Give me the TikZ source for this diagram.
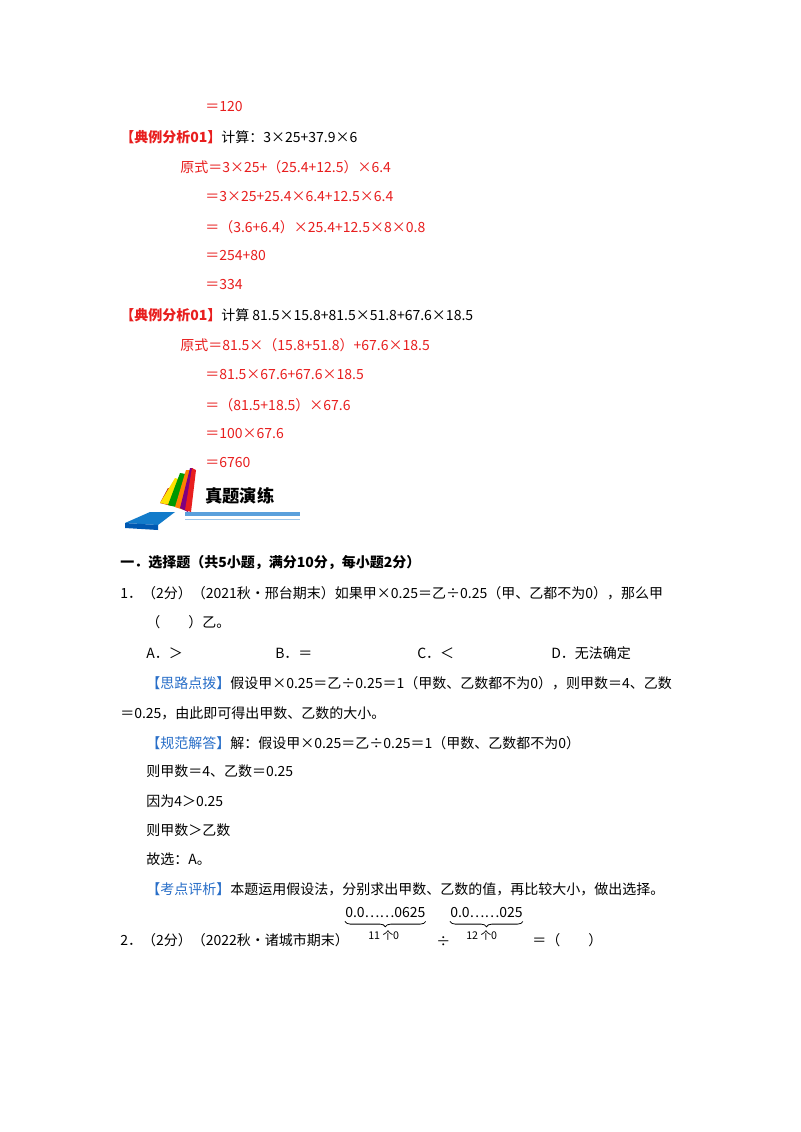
\documentclass[tikz,border=0pt]{standalone}
\usepackage{fontspec}
\setmainfont{Noto Sans CJK SC}
\usetikzlibrary{decorations.pathreplacing,calc}
\definecolor{rd}{RGB}{232,30,30}
\definecolor{bl}{RGB}{40,110,200}
\definecolor{ln}{RGB}{90,160,220}
\begin{document}
\begin{tikzpicture}[x=0.75pt,y=-0.75pt,
  t/.style={anchor=west,inner sep=0pt,font=\fontsize{10.5}{12}\selectfont},
  r/.style={t,text=rd},
  brc/.style={decorate,decoration={brace,mirror,amplitude=4pt},line width=0.6pt}]
\useasboundingbox[fill=white] (0,0) rectangle (800,1132);
\node[r] (a1) at (205,107) {＝120};
\node[t] (h1) at (120,137) {\textcolor{rd}{\bfseries 【典例分析01】}计算：3×25+37.9×6};
\node[r] (a2) at (180,167) {原式＝3×25+（25.4+12.5）×6.4};
\node[r] (a3) at (205,197) {＝3×25+25.4×6.4+12.5×6.4};
\node[r] (a4) at (205,227) {＝（3.6+6.4）×25.4+12.5×8×0.8};
\node[r] (a5) at (205,256) {＝254+80};
\node[r] (a6) at (205,285) {＝334};
\node[t] (h2) at (120,315) {\textcolor{rd}{\bfseries 【典例分析01】}计算 81.5×15.8+81.5×51.8+67.6×18.5};
\node[r] (b1) at (180,345) {原式＝81.5×（15.8+51.8）+67.6×18.5};
\node[r] (b2) at (205,375) {＝81.5×67.6+67.6×18.5};
\node[r] (b3) at (205,405) {＝（81.5+18.5）×67.6};
\node[r] (b4) at (205,434) {＝100×67.6};
\node[r] (b5) at (205,463) {＝6760};
% icon
\fill[ln] (185,512) rectangle (300,516);
\draw[ln!60,line width=0.6pt] (185,519) -- (300,519);
\fill[rd!80!black] (160,503) -- (168,488) -- (178,490) -- (172,506) -- cycle;
\fill[yellow!85!orange] (160,503) -- (175,478) -- (182,480) -- (176,506) -- cycle;
\fill[green!60!black] (168,505) -- (180,473) -- (186,474) -- (180,508) -- cycle;
\fill[orange] (175,507) -- (186,470) -- (190,470) -- (184,510) -- cycle;
\fill[violet] (180,508) -- (190,468) -- (193,468) -- (188,512) -- cycle;
\fill[rd] (185,510) -- (192,468) -- (196,470) -- (191,512) -- cycle;
\fill[cyan!60!blue] (125,523) -- (150,512) -- (175,512) -- (158,525) -- cycle;
\fill[blue!50!cyan!70!black] (125,523) -- (158,525) -- (158,530) -- (125,528) -- cycle;
\node[t,font=\fontsize{13}{14}\selectfont\bfseries] (hd) at (205,496) {真题演练};
% questions
\node[t,font=\fontsize{10.5}{12}\selectfont\bfseries] (s1) at (120,563) {一．选择题（共5小题，满分10分，每小题2分）};
\node[t] (q1) at (120,593) {1．（2分）（2021秋•邢台期末）如果甲×0.25＝乙÷0.25（甲、乙都不为0），那么甲};
\node[t] (q1b) at (146,622) {（\hspace{2em}）乙。};
\node[t] (oA) at (146,653) {A．＞};
\node[t] (oB) at (275,653) {B．＝};
\node[t] (oC) at (417,653) {C．＜};
\node[t] (oD) at (551,653) {D．无法确定};
\node[t] (p1) at (146,683) {\textcolor{bl}{【思路点拨】}假设甲×0.25＝乙÷0.25＝1（甲数、乙数都不为0），则甲数＝4、乙数};
\node[t] (p2) at (120,713) {＝0.25，由此即可得出甲数、乙数的大小。};
\node[t] (g1) at (146,743) {\textcolor{bl}{【规范解答】}解：假设甲×0.25＝乙÷0.25＝1（甲数、乙数都不为0）};
\node[t] (g2) at (146,771) {则甲数＝4、乙数＝0.25};
\node[t] (g3) at (146,801) {因为4＞0.25};
\node[t] (g4) at (146,830) {则甲数＞乙数};
\node[t] (g5) at (146,859) {故选：\textit{A}。};
\node[t] (k1) at (146,889) {\textcolor{bl}{【考点评析】}本题运用假设法，分别求出甲数、乙数的值，再比较大小，做出选择。};
\node[t] (q2) at (120,940) {2．（2分）（2022秋•诸城市期末）};
\node[t] (n1) at (345,912) {0.0……0625};
\node[t] (n2) at (450,912) {0.0……025};
\draw[brc] ($(n1.south west)+(0,4)$) -- ($(n1.south east)+(0,4)$);
\node[t,font=\fontsize{8}{9}\selectfont] (c1) at (368,935) {11 个0};
\draw[brc] ($(n2.south west)+(0,4)$) -- ($(n2.south east)+(0,4)$);
\node[t,font=\fontsize{8}{9}\selectfont] (c2) at (466,935) {12 个0};
\node[t] (dv) at (436,942) {÷};
\node[t] (eq) at (532,940) {＝（\hspace{2em}）};
\end{tikzpicture}
\end{document}
